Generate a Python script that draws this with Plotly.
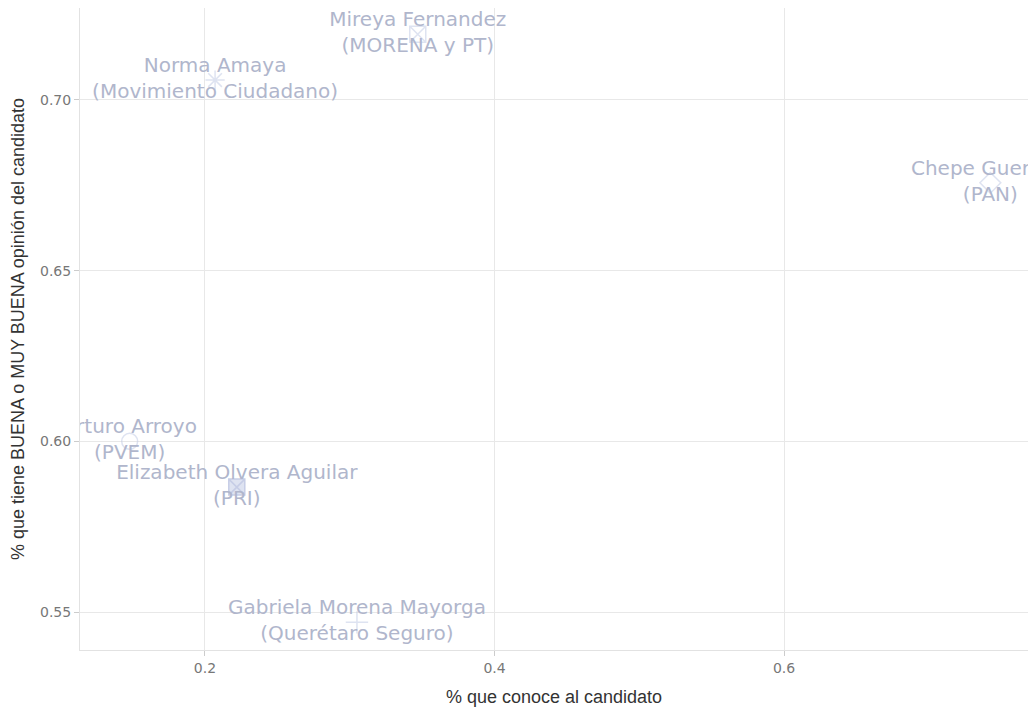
import plotly.graph_objects as go

candidatos = ["Mireya Fernandez", "Norma Amaya", "Chepe Guerrero",
              "Arturo Arroyo", "Elizabeth Olvera Aguilar", "Gabriela Morena Mayorga"]
partidos = ["MORENA y PT", "Movimiento Ciudadano", "PAN",
            "PVEM", "PRI", "Querétaro Seguro"]
conoce = [0.347, 0.207, 0.7425, 0.148, 0.222, 0.305]
buena = [0.7192, 0.7058, 0.6757, 0.600, 0.5866, 0.547]
simbolos = ["square-x-open", "asterisk-open", "diamond-open",
            "circle-open", "square-x", "cross-thin-open"]

fig = go.Figure()
for n, p, x, y, s in zip(candidatos, partidos, conoce, buena, simbolos):
    fig.add_trace(go.Scatter(
        x=[x], y=[y], mode="markers+text",
        text=[f"{n}<br>({p})"], textposition="middle center",
        textfont=dict(family="DejaVu Sans", size=20, color="#b0b6cc"),
        marker=dict(symbol=s, size=16, color="rgba(190,200,228,0.5)",
                    line=dict(color="#c6cde6", width=1.5)),
        cliponaxis=True, name=n, showlegend=False,
    ))

fig.update_layout(
    width=1020, height=699,
    margin=dict(l=72, r=0, t=0, b=57),
    paper_bgcolor="white", plot_bgcolor="white",
    font=dict(family="DejaVu Sans", size=14, color="#777"),
)
fig.update_xaxes(
    range=[0.1137, 0.7685], tickvals=[0.2, 0.4, 0.6], ticktext=["0.2", "0.4", "0.6"],
    showgrid=True, gridcolor="#e8e8e8", zeroline=False,
    showline=True, linecolor="#e2e2e2", mirror=True,
    ticks="outside", ticklen=5, tickcolor="#cccccc",
    tickfont=dict(family="DejaVu Sans", size=14, color="#777"),
    title=dict(text="% que conoce al candidato",
               font=dict(family="Liberation Sans", size=18, color="#333")),
)
fig.update_yaxes(
    range=[0.5389, 0.7269], tickvals=[0.55, 0.60, 0.65, 0.70],
    ticktext=["0.55", "0.60", "0.65", "0.70"],
    showgrid=True, gridcolor="#e8e8e8", zeroline=False,
    showline=True, linecolor="#e2e2e2", mirror=True,
    ticks="outside", ticklen=5, tickcolor="#cccccc",
    tickfont=dict(family="DejaVu Sans", size=14, color="#777"),
    title=dict(text="% que tiene BUENA o MUY BUENA opinión del candidato",
               font=dict(family="Liberation Sans", size=18, color="#333")),
)

fig.write_html("out.html")
